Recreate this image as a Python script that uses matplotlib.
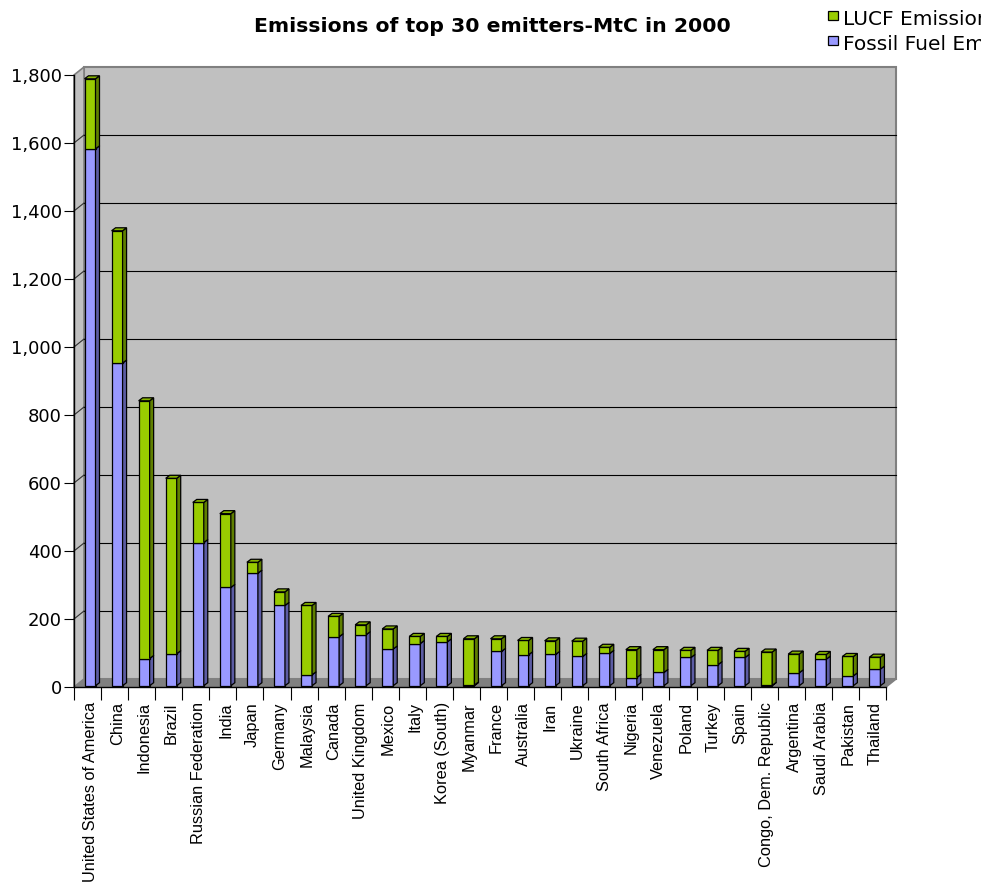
import matplotlib.pyplot as plt
from matplotlib.patches import Polygon

# Top 30 emitters, 2000 (MtC)
countries = ['United States of America', 'China', 'Indonesia', 'Brazil',
             'Russian Federation', 'India', 'Japan', 'Germany', 'Malaysia',
             'Canada', 'United Kingdom', 'Mexico', 'Italy', 'Korea (South)',
             'Myanmar', 'France', 'Australia', 'Iran', 'Ukraine', 'South Africa',
             'Nigeria', 'Venezuela', 'Poland', 'Turkey', 'Spain',
             'Congo, Dem. Republic', 'Argentina', 'Saudi Arabia', 'Pakistan',
             'Thailand']
fossil = [1579, 949, 80, 94, 421, 289, 331, 236, 32, 144,
          150, 108, 124, 129, 2, 101, 91, 92, 86, 95,
          24, 39, 83, 62, 83, 1, 38, 78, 29, 49]
lucf = [206, 389, 758, 516, 118, 217, 32, 40, 204, 60,
        29, 59, 21, 16, 136, 37, 42, 40, 45, 18,
        82, 67, 21, 42, 18, 98, 55, 14, 57, 35]
yticks = [0, 200, 400, 600, 800, 1000, 1200, 1400, 1600, 1800]

W, H = 981, 886
fig = plt.figure(figsize=(W / 100, H / 100), dpi=100)
ax = fig.add_axes([74 / W, (H - 687) / H, 812 / W, 612 / H])
n = len(countries)
ax.set_xlim(0, n)
ax.set_ylim(0, 1800)
ax.patch.set_visible(False)
for s in ax.spines.values():
    s.set_visible(False)

# pixel sizes in data units
px = n / 812
py = 1800 / 612
DX, DY = 10 * px, 8 * py          # depth of the walls

def poly(pts, fc, ec='none', lw=0.0, z=1):
    ax.add_patch(Polygon(pts, closed=True, facecolor=fc, edgecolor=ec,
                         linewidth=lw, zorder=z, clip_on=False))

# walls and floor
poly([(DX, DY), (n + DX, DY), (n + DX, 1800 + DY), (DX, 1800 + DY)],
     '#c0c0c0', '#808080', 1.5, 0)
poly([(0, 0), (DX, DY), (DX, 1800 + DY), (0, 1800)], '#c0c0c0', '#808080', 1.2, 0)
poly([(0, 0), (n, 0), (n + DX, DY), (DX, DY)], '#808080', 'none', 0, 1)

# gridlines on the back wall and left wall
for v in yticks[1:-1]:
    ax.plot([DX, n + DX], [v + DY, v + DY], color='black', lw=0.8, zorder=1,
            clip_on=False)
    ax.plot([0, DX], [v, v + DY], color='#303030', lw=0.8, zorder=1,
            clip_on=False)

# 3d stacked columns
bx, bw = 10.5 * px, 11 * px
bdx, bdy = 4 * px, 3 * py
base = 1.3 * py

def column(x0, y0, y1, front, side, top=None):
    poly([(x0, y0), (x0 + bw, y0), (x0 + bw, y1), (x0, y1)], front, 'black', 0.9, 3)
    poly([(x0 + bw, y0), (x0 + bw + bdx, y0 + bdy), (x0 + bw + bdx, y1 + bdy),
          (x0 + bw, y1)], side, 'black', 0.9, 3)
    if top:
        poly([(x0, y1), (x0 + bdx, y1 + bdy), (x0 + bw + bdx, y1 + bdy),
              (x0 + bw, y1)], top, 'black', 0.9, 3)

for i in range(n):
    x0 = i + bx
    column(x0, base, base + fossil[i], '#9999ff', '#5c5ca3')
    column(x0, base + fossil[i], base + fossil[i] + lucf[i],
           '#99cc00', '#5f7f00', '#86b300')

# axes lines
ax.plot([0, 0], [0, 1800], color='black', lw=1, zorder=4, clip_on=False)
ax.plot([0, n], [0, 0], color='black', lw=1, zorder=4, clip_on=False)
ax.plot([n, n + DX], [0, DY], color='#808080', lw=1.2, zorder=2, clip_on=False)

ax.set_yticks(yticks)
ax.set_yticklabels([f'{v:,}' for v in yticks], fontsize=13, family='DejaVu Sans')
ax.tick_params(axis='y', length=7.2, width=0.8, pad=1.5, color='black')

ax.set_xticks(range(n + 1))
ax.set_xticklabels([])
ax.set_xticks([i + 0.6 for i in range(n)], minor=True)
ax.set_xticklabels(countries, minor=True, rotation=90, va='top', ha='center',
                   fontsize=11.8, family='Liberation Sans')
ax.tick_params(axis='x', which='major', length=9.4, width=0.8, color='black')
ax.tick_params(axis='x', which='minor', length=0, pad=11)

fig.text(492 / W, 1 - 26 / H, 'Emissions of top 30 emitters-MtC in 2000',
         ha='center', va='center', fontsize=14.7, fontweight='bold',
         family='DejaVu Sans')

# legend, running past the right edge
for yy, col, lab in [(15.5, '#99cc00', 'LUCF Emissions'),
                     (40.5, '#9999ff', 'Fossil Fuel Emissions')]:
    fig.patches.append(plt.Rectangle((828 / W, 1 - (yy + 4.5) / H), 10 / W, 9 / H,
                                     facecolor=col, edgecolor='black', lw=0.9,
                                     transform=fig.transFigure, figure=fig))
    fig.text(843 / W, 1 - (yy + 4) / H, lab, ha='left', va='center',
             fontsize=14.5, family='DejaVu Sans')

fig.savefig('out.png', dpi=100)
